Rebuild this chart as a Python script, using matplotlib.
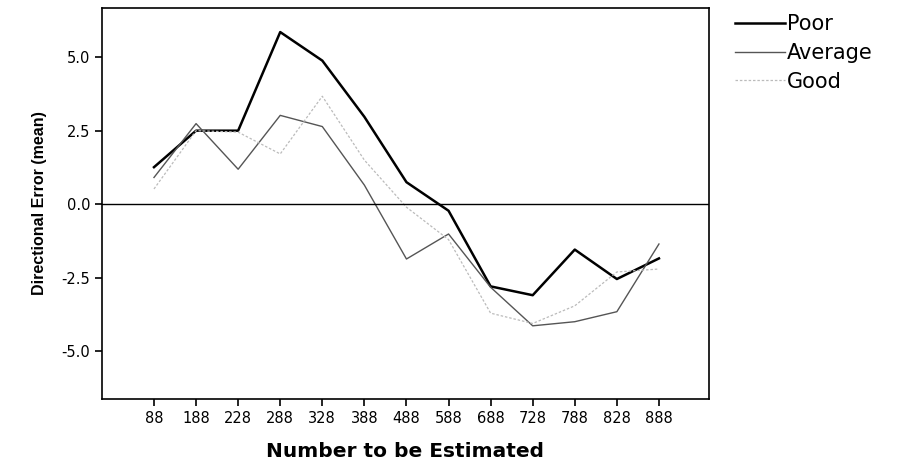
import numpy as np
import matplotlib.pyplot as plt

numbers = ['88', '188', '228', '288', '328', '388', '488', '588', '688', '728', '788', '828', '888']
poor = [1.26, 2.5, 2.5, 5.85, 4.88, 2.97, 0.75, -0.22, -2.79, -3.09, -1.54, -2.54, -1.84]
average = [0.91, 2.74, 1.19, 3.02, 2.64, 0.65, -1.86, -1.01, -2.82, -4.13, -3.99, -3.65, -1.35]
good = [0.52, 2.5, 2.45, 1.71, 3.67, 1.5, -0.1, -1.2, -3.7, -4.05, -3.45, -2.3, -2.2]

x = np.arange(len(numbers))

fig = plt.figure(figsize=(9.09, 4.67), dpi=100)
ax = fig.add_axes([0.112, 0.146, 0.668, 0.837])

ax.plot(x, poor, color='black', lw=1.8, label='Poor')
ax.plot(x, average, color='#555555', lw=1.0, label='Average')
ax.plot(x, good, color='#bbbbbb', lw=0.9, ls=(0, (2, 1.5)), label='Good')
ax.axhline(0, color='black', lw=1.0)

ax.set_xlim(-1.24, 13.19)
ax.set_ylim(-6.61, 6.67)
ax.set_xticks(x)
ax.set_xticklabels(numbers)
ax.set_yticks([5.0, 2.5, 0.0, -2.5, -5.0])
ax.set_yticklabels(['5.0', '2.5', '0.0', '-2.5', '-5.0'])
ax.tick_params(direction='out', length=5, width=1.2, labelsize=10.5)
for s in ax.spines.values():
    s.set_linewidth(1.2)

ax.set_xlabel('Number to be Estimated', fontsize=14.5, fontweight='bold', labelpad=12)
ax.set_ylabel('Directional Error (mean)', fontsize=11.5, fontweight='bold',
              family=['Liberation Sans', 'DejaVu Sans'], labelpad=10)

leg = fig.legend(loc='upper left', bbox_to_anchor=(0.788, 1.01), frameon=False,
                 fontsize=15, handlelength=2.4, handletextpad=0.1, labelspacing=0.42)

plt.savefig('out.png', dpi=100)
